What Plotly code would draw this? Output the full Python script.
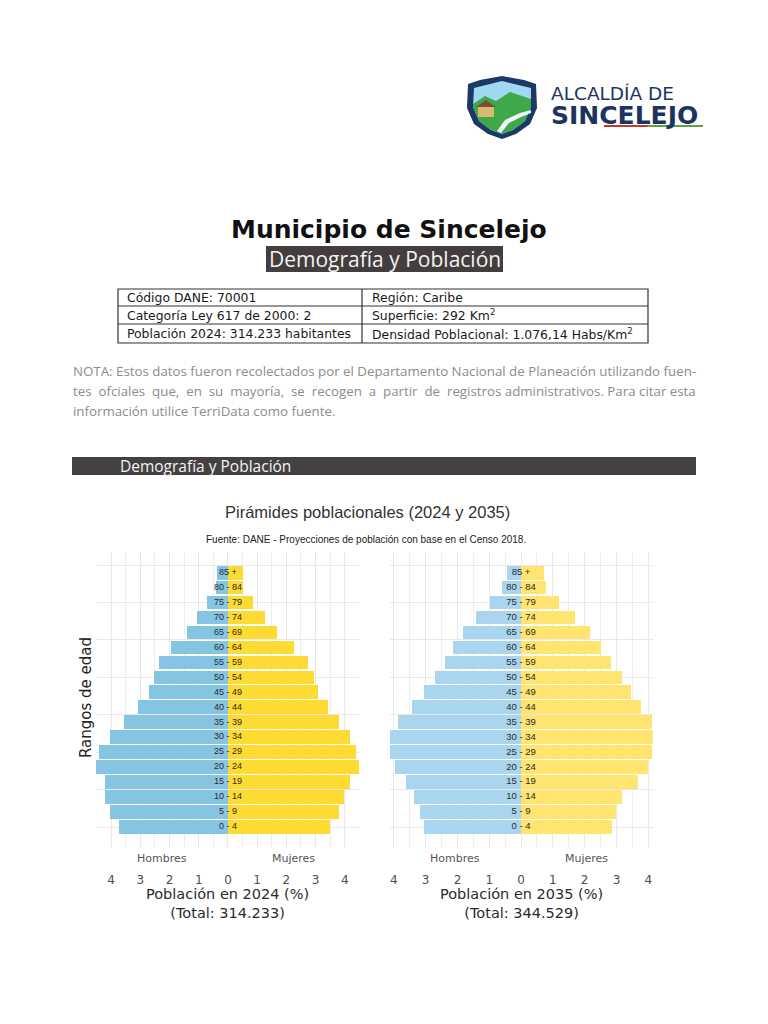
import plotly.graph_objects as go

W, H = 768, 1024

# ---------------- data ----------------
age_labels = ["0 - 4", "5 - 9", "10 - 14", "15 - 19", "20 - 24", "25 - 29", "30 - 34",
              "35 - 39", "40 - 44", "45 - 49", "50 - 54", "55 - 59", "60 - 64",
              "65 - 69", "70 - 74", "75 - 79", "80 - 84", "85 +"]
hombres_2024 = [3.72, 4.03, 4.20, 4.20, 4.51, 4.41, 4.03, 3.55, 3.09, 2.72, 2.52, 2.35,
                1.96, 1.41, 1.07, 0.71, 0.40, 0.39]
mujeres_2024 = [3.50, 3.79, 3.96, 4.19, 4.51, 4.39, 4.19, 3.82, 3.43, 3.09, 2.96, 2.75,
                2.26, 1.67, 1.28, 0.85, 0.50, 0.50]
hombres_2035 = [3.06, 3.19, 3.37, 3.63, 3.97, 4.13, 4.13, 3.88, 3.44, 3.06, 2.70, 2.39,
                2.14, 1.82, 1.42, 0.98, 0.60, 0.44]
mujeres_2035 = [2.86, 3.00, 3.19, 3.69, 4.00, 4.11, 4.14, 4.11, 3.78, 3.46, 3.19, 2.84,
                2.52, 2.17, 1.70, 1.19, 0.78, 0.72]
total_2024 = "314.233"
total_2035 = "344.529"
tick_vals = [-4, -3, -2, -1, 0, 1, 2, 3, 4]
tick_text = ["4", "3", "2", "1", "0", "1", "2", "3", "4"]
minor_vals = [-3.5, -2.5, -1.5, -0.5, 0.5, 1.5, 2.5, 3.5]
grid_y = [0, 2.5, 5, 7.5, 10, 12.5, 15, 17.5]

table_rows = [
    ("Código DANE: 70001", "Región: Caribe"),
    ("Categoría Ley 617 de 2000: 2", "Superficie: 292 Km<sup>2</sup>"),
    ("Población 2024: 314.233 habitantes", "Densidad Poblacional: 1.076,14 Habs/Km<sup>2</sup>"),
]
nota_lines = [
    "NOTA: Estos datos fueron recolectados por el Departamento Nacional de Planeación utilizando fuen-",
    "tes ofciales que, en su mayoría, se recogen a partir de registros administrativos. Para citar esta",
    "información utilice TerriData como fuente.",
]
nota_extra_gaps = [0, 11, 0]  # extra spaces to emulate justified text

# ---------------- helpers ----------------
def px(x):
    return x / W

def py(y):
    return 1 - y / H

def path(pts):
    return "M " + " L ".join(f"{px(x):.5f},{py(y):.5f}" for x, y in pts) + " Z"

def justify(line, extra):
    words = line.split(" ")
    out = words[0]
    for i, w in enumerate(words[1:]):
        out += (" \u00a0" if i < extra else " ") + w
    return out

rows = list(range(len(age_labels)))

fig = go.Figure()

# ---------------- pyramids ----------------
for xa, ya, hom, muj, cm, cf, fs in [
    ("x", "y", hombres_2024, mujeres_2024, "#86c4e4", "#fedb33", 9),
    ("x2", "y2", hombres_2035, mujeres_2035, "#a9d6ee", "#ffe56f", 9.5),
]:
    fig.add_trace(go.Bar(y=rows, x=[-v for v in hom], orientation="h", width=0.92,
                         marker=dict(color=cm, line=dict(width=0)), xaxis=xa, yaxis=ya,
                         showlegend=False, hoverinfo="skip"))
    fig.add_trace(go.Bar(y=rows, x=muj, orientation="h", width=0.92,
                         marker=dict(color=cf, line=dict(width=0)), xaxis=xa, yaxis=ya,
                         showlegend=False, hoverinfo="skip"))
    fig.add_trace(go.Scatter(y=rows, x=[0] * len(rows), mode="text", text=age_labels,
                             textposition="middle center",
                             textfont=dict(family="Liberation Sans", size=fs, color="#2b2b2b"),
                             xaxis=xa, yaxis=ya, showlegend=False, hoverinfo="skip"))

ydom = [py(847), py(552)]
yrange = [-1.337, 18.38]
axis_common = dict(tickvals=tick_vals, ticktext=tick_text, showgrid=True, gridcolor="#e8e8e8",
                   gridwidth=1, zeroline=False, showline=False, ticks="",
                   minor=dict(tickvals=minor_vals, showgrid=True, gridcolor="#ececec",
                              gridwidth=1, ticks=""),
                   tickfont=dict(family="DejaVu Sans", size=12, color="#4d4d4d"),
                   ticklabelstandoff=24, fixedrange=True)
yaxis_common = dict(range=yrange, domain=ydom, tickvals=grid_y, showticklabels=False,
                    showgrid=True, gridcolor="#e8e8e8", gridwidth=1, zeroline=False,
                    showline=False, ticks="", fixedrange=True)

fig.update_layout(
    width=W, height=H, margin=dict(l=0, r=0, t=0, b=0),
    paper_bgcolor="white", plot_bgcolor="white", barmode="relative", bargap=0,
    xaxis=dict(domain=[px(96), px(359)], range=[-4.52, 4.49], anchor="y", **axis_common),
    yaxis=dict(anchor="x", **yaxis_common),
    xaxis2=dict(domain=[px(389.7), px(652.7)], range=[-4.13, 4.14], anchor="y2", **axis_common),
    yaxis2=dict(anchor="x2", **yaxis_common),
)

ann = []
shapes = []

def text(x, y, s, size, color="#222", family="DejaVu Sans", xanchor="center", **kw):
    ann.append(dict(x=px(x), y=py(y), xref="paper", yref="paper", text=s, showarrow=False,
                    xanchor=xanchor, yanchor="middle",
                    font=dict(family=family, size=size, color=color), **kw))

# sex labels and axis titles
for xa, hx, mx, year, tot in [("x", -2.26, 2.23, "2024", total_2024),
                              ("x2", -2.08, 2.07, "2035", total_2035)]:
    for xv, s in [(hx, "Hombres"), (mx, "Mujeres")]:
        ann.append(dict(x=xv, y=py(858), xref=xa, yref="paper", text=s, showarrow=False,
                        xanchor="center", yanchor="middle",
                        font=dict(family="DejaVu Sans", size=11, color="#555555")))
    ann.append(dict(x=0, y=py(903), xref=xa, yref="paper",
                    text=f"Población en {year} (%)<br>(Total: {tot})", showarrow=False,
                    xanchor="center", yanchor="middle",
                    font=dict(family="DejaVu Sans", size=14.5, color="#2b2b2b")))

text(86, 698, "Rangos de edad", 15, "#222", textangle=-90)
text(367, 512, "Pirámides poblacionales (2024 y 2035)", 16.5, "#333", "Liberation Sans")
text(366, 539, "Fuente: DANE - Proyecciones de población con base en el Censo 2018.", 10,
     "#222", "Liberation Sans")

# section header bar
shapes.append(dict(type="rect", xref="paper", yref="paper", x0=px(72), x1=px(696),
                   y0=py(475), y1=py(457), fillcolor="#454041", line=dict(width=0)))
text(118, 466, "Demografía y Población", 15.5, "#f4f4f4", "Open Sans", xanchor="left")

# nota
for i, line in enumerate(nota_lines):
    text(71, 371 + i * 20, justify(line, nota_extra_gaps[i]), 13.3, "#8c8c8c", "Open Sans",
         xanchor="left")

# table
tx0, tx1, tmid = 118, 648, 362
ty = [289, 306, 324, 343]
shapes.append(dict(type="rect", xref="paper", yref="paper", x0=px(tx0), x1=px(tx1),
                   y0=py(ty[3]), y1=py(ty[0]), line=dict(color="#333", width=1.2)))
for yy in ty[1:3]:
    shapes.append(dict(type="line", xref="paper", yref="paper", x0=px(tx0), x1=px(tx1),
                       y0=py(yy), y1=py(yy), line=dict(color="#333", width=1.2)))
shapes.append(dict(type="line", xref="paper", yref="paper", x0=px(tmid), x1=px(tmid),
                   y0=py(ty[0]), y1=py(ty[3]), line=dict(color="#333", width=1.2)))
for i, (a, b) in enumerate(table_rows):
    yc = (ty[i] + ty[i + 1]) / 2
    text(125, yc, a, 12.4, "#1a1a1a", "DejaVu Sans", xanchor="left")
    text(370, yc, b, 12.4, "#1a1a1a", "DejaVu Sans", xanchor="left")

# title block
text(389, 229, "<b>Municipio de Sincelejo</b>", 25, "#111", "DejaVu Sans")
shapes.append(dict(type="rect", xref="paper", yref="paper", x0=px(266), x1=px(503),
                   y0=py(272), y1=py(246), fillcolor="#433d3e", line=dict(width=0)))
text(385, 259, "Demografía y Población", 21, "#f2f2f2", "Open Sans")

# logo
shield_outer = [(468, 84), (480, 80), (491, 78), (502, 76), (513, 78), (524, 80), (536, 84),
                (537, 108), (530, 124), (516, 134), (502, 139), (488, 134), (474, 124), (467, 108)]
shield_inner = [(474, 88), (502, 81), (531, 88), (531, 107), (525, 121), (513, 130), (502, 134),
                (491, 130), (479, 121), (473, 107)]
hills = [(473, 104), (485, 96), (496, 101), (510, 92), (531, 99), (531, 107), (525, 121),
         (513, 130), (502, 134), (491, 130), (479, 121), (473, 107)]
house = [(478, 107), (494, 107), (494, 117), (478, 117)]
roof = [(476, 107), (486, 100), (496, 107)]
stream = [(497, 131), (505, 120), (520, 113), (531, 110), (531, 113), (521, 117), (509, 123),
          (501, 133)]
for pts, col in [(shield_outer, "#1c3966"), (shield_inner, "#9fd8f3"), (hills, "#3fa94a"),
                 (house, "#d9b873"), (roof, "#7a5230"), (stream, "#eef6fb")]:
    shapes.append(dict(type="path", xref="paper", yref="paper", path=path(pts),
                       fillcolor=col, line=dict(width=0)))
ann.append(dict(x=px(549), y=py(106), xref="paper", yref="paper", showarrow=False,
                xanchor="left", yanchor="middle", align="left",
                text="ALCALDÍA DE<br><span style='font-size:25px'><b>SINCELEJO</b></span>",
                font=dict(family="DejaVu Sans", size=18.5, color="#1d3461")))
shapes.append(dict(type="line", xref="paper", yref="paper", x0=px(604), x1=px(648),
                   y0=py(126), y1=py(126), line=dict(color="#c0392b", width=2)))
shapes.append(dict(type="line", xref="paper", yref="paper", x0=px(648), x1=px(703),
                   y0=py(126), y1=py(126), line=dict(color="#5aa53b", width=2)))

fig.update_layout(annotations=ann, shapes=shapes)

fig.write_html("out.html", config={"displayModeBar": False, "staticPlot": True},
               post_script="document.body.style.margin='0';")
